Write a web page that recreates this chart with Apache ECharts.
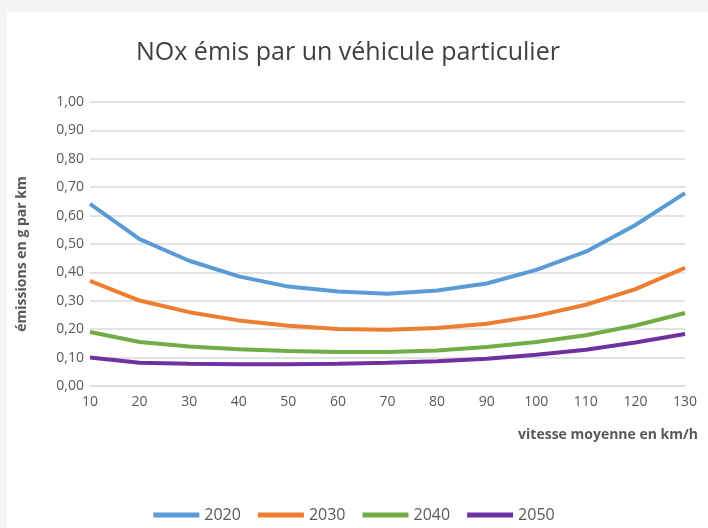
<!DOCTYPE html>
<html>
<head>
<meta charset="utf-8">
<script src="https://cdn.jsdelivr.net/npm/echarts@6/dist/echarts.min.js"></script>
<style>
	html, body { margin: 0; padding: 0; background: #ffffff; }
	#chart_1 { width: 708px; height: 528px; }
</style>
</head>
<body>
<div id="chart_1"></div>
<script>
// vitesse (km/h)
var vitesses = ['10', '20', '30', '40', '50', '60', '70', '80', '90', '100', '110', '120', '130'];
var annees = ['2020', '2030', '2040', '2050'];
var couleurs = ['#5B9BD5', '#ED7D31', '#70AD47', '#7030A0'];

// émissions en g par km
var nox2020 = [0.641, 0.517, 0.441, 0.386, 0.350, 0.333, 0.325, 0.336, 0.361, 0.409, 0.473, 0.567, 0.679];
var nox2030 = [0.370, 0.301, 0.260, 0.231, 0.212, 0.201, 0.198, 0.204, 0.219, 0.247, 0.286, 0.341, 0.416];
var nox2040 = [0.190, 0.155, 0.139, 0.129, 0.123, 0.120, 0.120, 0.125, 0.137, 0.155, 0.179, 0.213, 0.257];
var nox2050 = [0.100, 0.082, 0.078, 0.077, 0.077, 0.078, 0.082, 0.087, 0.096, 0.110, 0.128, 0.153, 0.183];

var donnees = [nox2020, nox2030, nox2040, nox2050];

var police = '"Open Sans", "Noto Sans", sans-serif';
var gris = '#595959';

var series = [];
for (var i = 0; i < annees.length; i++) {
	series.push({
		name: annees[i],
		type: 'line',
		symbol: 'none',
		lineStyle: { width: 4, color: couleurs[i] },
		itemStyle: { color: couleurs[i] },
		data: donnees[i]
	});
}

var option = {
	backgroundColor: '#ffffff',
	animation: false,
	title: {
		text: 'NOx émis par un véhicule particulier',
		left: 131,
		top: 35,
		textStyle: { fontFamily: police, fontSize: 25, fontWeight: 'normal', color: '#404040' }
	},
	graphic: [
		{ type: 'rect', left: 0, top: 0, shape: { width: 708, height: 12 }, style: { fill: '#f3f4f6' } },
		{ type: 'rect', left: 0, top: 0, shape: { width: 7, height: 528 }, style: { fill: '#f3f4f6' } },
		{
			type: 'text', right: 10, top: 428,
			style: { text: 'vitesse moyenne en km/h', font: 'bold 14px ' + police, fill: gris }
		},
		{
			type: 'text', x: 22, y: 254, rotation: Math.PI / 2,
			style: {
				text: 'émissions en g par km', font: 'bold 14px ' + police, fill: gris,
				align: 'center', verticalAlign: 'middle'
			}
		}
	],
	legend: {
		data: annees,
		bottom: 0,
		left: 'center',
		icon: 'rect',
		itemWidth: 46,
		itemHeight: 5,
		itemGap: 17,
		textStyle: { fontFamily: police, fontSize: 16, color: gris }
	},
	grid: { left: 90, right: 23, top: 102, bottom: 142 },
	xAxis: {
		type: 'category',
		boundaryGap: false,
		data: vitesses,
		axisLine: { lineStyle: { color: '#d9d9d9' } },
		axisTick: { show: false },
		axisLabel: { fontFamily: police, fontSize: 14, color: gris, margin: 9 }
	},
	yAxis: {
		type: 'value',
		min: 0,
		max: 1,
		interval: 0.1,
		axisLine: { show: false },
		axisTick: { show: false },
		splitLine: { lineStyle: { color: '#d9d9d9', width: 1.5 } },
		axisLabel: {
			fontFamily: police, fontSize: 14, color: gris, margin: 6,
			formatter: function (v) { return v.toFixed(2).replace('.', ','); }
		}
	},
	series: series
};

var myChart = echarts.init(document.getElementById('chart_1'));
myChart.setOption(option);
</script>
</body>
</html>
